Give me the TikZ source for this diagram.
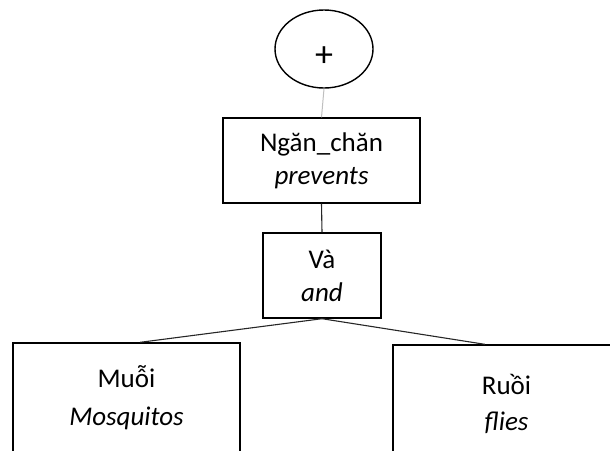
\documentclass[tikz,border=0pt]{standalone}
\usepackage{fontspec}
\setmainfont{Carlito}
\usetikzlibrary{shapes.geometric,calc}
\begin{document}
\begin{tikzpicture}[x=1pt,y=-1pt,
  box/.style={draw=black, line width=1.4pt, rectangle, inner sep=0pt,
    align=center, font=\fontsize{27}{33}\selectfont},
  link/.style={draw=black!85, line width=1.1pt},
  faint/.style={draw=black!25, line width=1pt}]
\useasboundingbox (0,0) rectangle (610,450);
\clip (0,0) rectangle (610,450);
% root operator
\node[ellipse, draw=black, line width=1.4pt, minimum width=98pt,
  minimum height=78pt, inner sep=0pt]
  (root) at (324,49) {};
\node[font=\fontsize{36}{40}\selectfont, inner sep=0pt] (plus) at (324,57) {+};
% verb
\node[box, minimum width=197pt, minimum height=85pt] (prevent) at (321.5,160.5)
  {Ngăn\_chăn\\\textit{prevents}};
% conjunction
\node[box, minimum width=118pt, minimum height=85pt] (conj) at (322,275.5)
  {Và\\\textit{and}};
% conjuncts
\node[box, minimum width=227pt, minimum height=109pt,
  font=\fontsize{27}{38}\selectfont] (mosq) at (126.5,397.5)
  {Muỗi\\\textit{Mosquitos}};
\node[box, minimum width=227pt, minimum height=117pt,
  font=\fontsize{27}{36}\selectfont] (flies) at (506.5,403.5)
  {Ruồi\\\textit{flies}};
% connectors
\draw[faint] (root.south) -- (prevent.north);
\draw[link] (prevent.south) -- (conj.north);
\draw[link] (conj.south) -- ($(mosq.north west)!0.56!(mosq.north east)$);
\draw[link] (conj.south) -- ($(flies.north west)!0.405!(flies.north east)$);
\end{tikzpicture}
\end{document}
